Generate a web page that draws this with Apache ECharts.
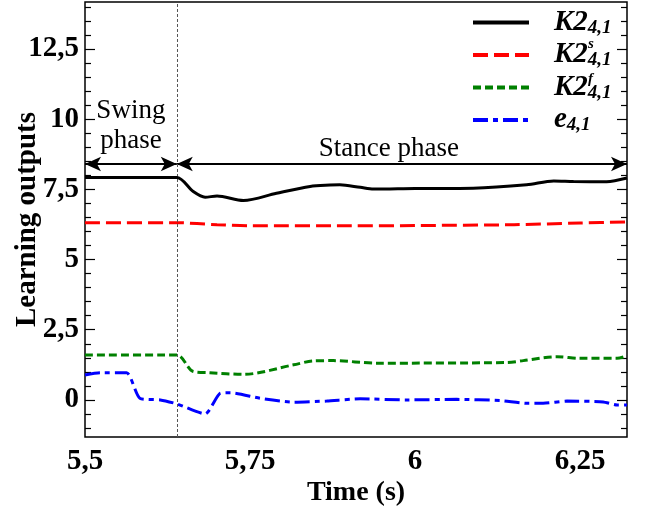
<!DOCTYPE html>
<html><head><meta charset="utf-8">
<script src="https://cdn.jsdelivr.net/npm/echarts@6/dist/echarts.min.js"></script>
<style>html,body{margin:0;padding:0;background:#fff}#c{width:646px;height:514px}</style>
</head><body><div id="c"></div>
<script>
// ---- data ----
const timeK2 = [5.5, 5.639, 5.664, 5.682, 5.70, 5.74, 5.79, 5.841, 5.871, 5.886, 5.917, 5.937, 6.0, 6.088, 6.169, 6.21, 6.24, 6.29, 6.321];
const valK2  = [7.92, 7.92, 7.42, 7.22, 7.26, 7.10, 7.36, 7.60, 7.65, 7.66, 7.57, 7.51, 7.53, 7.54, 7.66, 7.80, 7.78, 7.77, 7.90];
const timeK2s = [5.5, 5.639, 5.70, 5.75, 5.9, 6.0, 6.15, 6.25, 6.321];
const valK2s  = [6.31, 6.31, 6.24, 6.20, 6.20, 6.21, 6.24, 6.30, 6.34];
const timeK2f = [5.5, 5.639, 5.664, 5.689, 5.74, 5.816, 5.846, 5.876, 5.942, 6.139, 6.164, 6.215, 6.25, 6.306, 6.321];
const valK2f  = [1.60, 1.60, 1.01, 0.97, 0.91, 1.25, 1.39, 1.40, 1.31, 1.33, 1.40, 1.54, 1.48, 1.48, 1.57];
const timeE = [5.5, 5.523, 5.563, 5.583, 5.614, 5.639, 5.682, 5.705, 5.72, 5.765, 5.816, 5.866, 5.917, 5.987, 6.063, 6.129, 6.169, 6.194, 6.23, 6.285, 6.306, 6.321];
const valE  = [0.89, 0.97, 0.97, 0.06, 0.0, -0.14, -0.50, 0.24, 0.26, 0.06, -0.08, -0.04, 0.04, 0.0, 0.02, -0.02, -0.12, -0.12, -0.04, -0.07, -0.18, -0.18];
const xTicks = [5.5, 5.75, 6, 6.25];
const yTicks = [0, 2.5, 5, 7.5, 10, 12.5];
const yMinorTicks = [-1, -0.5, 0.5, 1, 1.5, 2, 3, 3.5, 4, 4.5, 5.5, 6, 6.5, 7, 8, 8.5, 9, 9.5, 10.5, 11, 11.5, 12, 13, 13.5, 14];
const phaseSplit = 5.639;
const arrowLevel = 8.4;
const xMin = 5.5, xMax = 6.321, yMin = -1.32, yMax = 14.17;

const zip = (a, b) => a.map((v, i) => [v, b[i]]);
const fmt = v => String(v).replace('.', ',');
const FONT = 'Liberation Serif';

const chart = echarts.init(document.getElementById('c'), null, {renderer: 'canvas'});

function yAx(pos, ticks, len, labels) {
  return {
    type: 'value', position: pos, min: yMin, max: yMax,
    axisLine: {show: false}, splitLine: {show: false},
    axisTick: {show: true, inside: true, length: len, customValues: ticks, lineStyle: {color: '#000', width: 1.2}},
    axisLabel: labels ? {show: true, customValues: ticks, formatter: fmt, fontFamily: FONT, fontWeight: 'bold', fontSize: 29, color: '#000', margin: 6} : {show: false},
    name: labels ? 'Learning outputs' : '',
    nameLocation: 'middle', nameGap: 43, nameRotate: 90, nameMoveOverlap: false,
    nameTextStyle: {fontFamily: FONT, fontWeight: 'bold', fontSize: 29, color: '#000'}
  };
}

chart.setOption({
  animation: false,
  backgroundColor: '#fff',
  grid: {left: 85, right: 19, top: 2, bottom: 77, show: true, borderColor: '#000', borderWidth: 1.5, outerBoundsMode: 'none', containLabel: false},
  xAxis: {
    type: 'value', min: xMin, max: xMax,
    axisLine: {show: false}, axisTick: {show: false}, splitLine: {show: false},
    axisLabel: {customValues: xTicks, formatter: fmt, fontFamily: FONT, fontWeight: 'bold', fontSize: 29, color: '#000', margin: 10},
    name: 'Time (s)', nameLocation: 'middle', nameGap: 42, nameMoveOverlap: false,
    nameTextStyle: {fontFamily: FONT, fontWeight: 'bold', fontSize: 28, color: '#000'}
  },
  yAxis: [
    yAx('left', yTicks, 10, true),
    yAx('left', yMinorTicks, 6, false),
    yAx('right', yTicks, 10, false),
    yAx('right', yMinorTicks, 6, false)
  ],
  legend: {
    orient: 'vertical', left: 466, top: 3, itemGap: 3,
    itemWidth: 56, itemHeight: 14,
    itemStyle: {opacity: 0},
    lineStyle: {width: 4},
    data: ['K2', 'K2s', 'K2f', 'e'],
    formatter: n => ({K2: '{k|K2}{sub|4,1}', K2s: '{k|K2}{sub|4,1}', K2f: '{k|K2}{sub|4,1}', e: '{e|e}{esub|4,1}'})[n],
    textStyle: {
      rich: {
        k: {fontFamily: FONT, fontWeight: 'bold', fontStyle: 'italic', fontSize: 29, lineHeight: 30, padding: [0, 0, 0, 20], color: '#000'},
        e: {fontFamily: FONT, fontWeight: 'bold', fontStyle: 'italic', fontSize: 29, lineHeight: 30, padding: [0, 0, 0, 20], color: '#000'},
        sub: {fontFamily: FONT, fontWeight: 'bold', fontStyle: 'italic', fontSize: 19, lineHeight: 12, verticalAlign: 'bottom', color: '#000'},
        esub: {fontFamily: FONT, fontWeight: 'bold', fontStyle: 'italic', fontSize: 19, lineHeight: 12, verticalAlign: 'bottom', color: '#000'}
      }
    }
  },
  graphic: [
    {type: 'text', left: 588, top: 37, z: 100, style: {text: 's', font: 'italic bold 15px "Liberation Serif"', fill: '#000'}},
    {type: 'text', left: 588, top: 72, z: 100, style: {text: 'f', font: 'italic bold 15px "Liberation Serif"', fill: '#000'}}
  ],
  series: [
    {
      name: 'K2', type: 'line', data: zip(timeK2, valK2), symbol: 'none', smooth: 0.3,
      lineStyle: {color: '#000', width: 3}, itemStyle: {color: '#000'}, z: 5,
      markLine: {
        silent: true, animation: false,
        data: [
          [{coord: [xMin, arrowLevel], symbol: 'arrow', label: {show: true, formatter: 'Swing\nphase', position: 'insideMiddleTop', distance: 8, fontFamily: FONT, fontSize: 27, lineHeight: 30, color: '#000'}},
           {coord: [phaseSplit, arrowLevel], symbol: 'arrow'}],
          [{coord: [phaseSplit, arrowLevel], symbol: 'arrow', label: {show: true, formatter: 'Stance phase', position: 'insideMiddleTop', distance: 2, offset: [-13, 0], fontFamily: FONT, fontSize: 27, color: '#000'}},
           {coord: [xMax, arrowLevel], symbol: 'arrow'}],
          [{coord: [phaseSplit, yMin], symbol: 'none', lineStyle: {color: '#555', width: 1, type: [3, 2]}, label: {show: false}},
           {coord: [phaseSplit, yMax], symbol: 'none'}]
        ],
        symbolSize: [11, 16],
        lineStyle: {color: '#000', width: 2, type: 'solid'}
      }
    },
    {name: 'K2s', type: 'line', data: zip(timeK2s, valK2s), symbol: 'none', smooth: 0.3,
      lineStyle: {color: '#ff0000', width: 3, type: [15, 6]}, itemStyle: {color: '#ff0000'}},
    {name: 'K2f', type: 'line', data: zip(timeK2f, valK2f), symbol: 'none', smooth: 0.3,
      lineStyle: {color: '#008000', width: 3, type: [8, 4]}, itemStyle: {color: '#008000'}},
    {name: 'e', type: 'line', data: zip(timeE, valE), symbol: 'none', smooth: 0.2,
      lineStyle: {color: '#0000ff', width: 3, type: [15, 5, 5, 5]}, itemStyle: {color: '#0000ff'}}
  ]
});
</script></body></html>
